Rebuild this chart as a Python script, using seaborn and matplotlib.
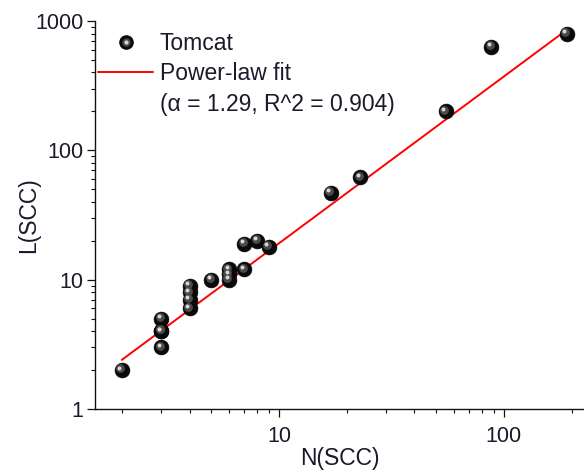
import numpy as np
import pandas as pd
import seaborn as sns
import matplotlib
matplotlib.use("Agg")
import matplotlib.pyplot as plt
from matplotlib.lines import Line2D
from matplotlib.legend_handler import HandlerTuple
from matplotlib.transforms import offset_copy

# ---- data ----
n_scc = [2, 3, 3, 3, 3, 4, 4, 4, 4, 5, 6, 6, 6, 7, 7, 8, 9, 17, 23, 55, 88, 190]
l_scc = [2, 5, 4, 4, 3, 9, 8, 7, 6, 10, 12, 11, 10, 12, 19, 20, 18, 47, 62, 200, 630, 800]
fit_alpha = 1.29
fit_coef = 0.98
fit_r2 = 0.904
series_label = "Tomcat"
fit_label = "Power-law fit"
fit_stats_label = "(\u03b1 = 1.29, R^2 = 0.904)"
x_ticks = [10, 100]
x_ticklabels = ["10", "100"]
y_ticks = [1, 10, 100, 1000]
y_ticklabels = ["1", "10", "100", "1000"]

df = pd.DataFrame({"N": n_scc, "L": l_scc})
fit_x = [min(n_scc), max(n_scc)]
fit_df = pd.DataFrame({"N": fit_x, "L": [fit_coef * x ** fit_alpha for x in fit_x]})

sns.set_style("white")
plt.rcParams["font.family"] = ["Liberation Sans", "DejaVu Sans"]

fig = plt.figure(figsize=(5.84, 4.71), dpi=100)
ax = fig.add_axes([95 / 584, 1 - 409 / 471, 1 - 95 / 584, (409 - 21) / 471])
ax.set_xscale("log")
ax.set_yscale("log")

# fit line
sns.lineplot(data=fit_df, x="N", y="L", ax=ax, color="#ff0000", lw=1.4, zorder=2)

# shaded spheres
sns.scatterplot(data=df, x="N", y="L", ax=ax, s=115, color="#0a0a0a",
                edgecolor="#000000", linewidth=0.4, zorder=3)
t1 = offset_copy(ax.transData, fig=fig, x=-1.2, y=1.2, units="points")
sns.scatterplot(data=df, x="N", y="L", ax=ax, s=40, color="#4a4a4a",
                linewidth=0, zorder=4, transform=t1)
t2 = offset_copy(ax.transData, fig=fig, x=-1.8, y=1.8, units="points")
sns.scatterplot(data=df, x="N", y="L", ax=ax, s=8, color="#d8d8d8",
                linewidth=0, zorder=5, transform=t2)

ax.set_xlim(1.52, 227)
ax.set_ylim(1, 1000)

ax.set_xticks(x_ticks)
ax.set_xticklabels(x_ticklabels)
ax.set_yticks(y_ticks)
ax.set_yticklabels(y_ticklabels)

for side in ["top", "right"]:
    ax.spines[side].set_visible(False)
for side in ["left", "bottom"]:
    ax.spines[side].set_color("#111111")
    ax.spines[side].set_linewidth(1.0)

ax.tick_params(which="major", direction="out", length=5.5, width=0.9,
               color="#111111", labelsize=15.5, pad=3, labelcolor="#1a1a2a",
               left=True, bottom=True)
ax.tick_params(which="minor", direction="out", length=3, width=0.8,
               color="#111111", left=True, bottom=True)
ax.tick_params(axis="x", which="major", pad=6.5)

ax.set_xlabel("N(SCC)", fontsize=16.5, color="#1a1a2a")
ax.set_ylabel("L(SCC)", fontsize=16.5, color="#1a1a2a")
ax.xaxis.set_label_coords(0.5, (409 - 447) / 388)
ax.yaxis.set_label_coords((29 - 95) / 489, 0.5)
ax.yaxis.label.set_verticalalignment("center")
ax.xaxis.label.set_verticalalignment("top")

# legend
sphere = (Line2D([], [], ls="none", marker="o", ms=9.5, color="#0a0a0a"),
          Line2D([], [], ls="none", marker="o", ms=5, color="#4a4a4a"),
          Line2D([], [], ls="none", marker="o", ms=2, color="#d8d8d8"))
fit_handle = Line2D([], [], color="#ff0000", lw=1.4)
blank_handle = Line2D([], [], ls="none", marker=None)
leg = ax.legend([sphere, fit_handle, blank_handle],
                [series_label, fit_label, fit_stats_label],
                handler_map={tuple: HandlerTuple(ndivide=1, pad=0)},
                loc="upper left", bbox_to_anchor=(98 / 584, 1 - 32 / 471),
                bbox_transform=fig.transFigure, frameon=False,
                fontsize=16.5, handlelength=2.4, handletextpad=0.3,
                borderpad=0, borderaxespad=0, labelspacing=0.32)
for t in leg.get_texts():
    t.set_color("#1a1a2a")

fig.savefig("out.png", dpi=100)
